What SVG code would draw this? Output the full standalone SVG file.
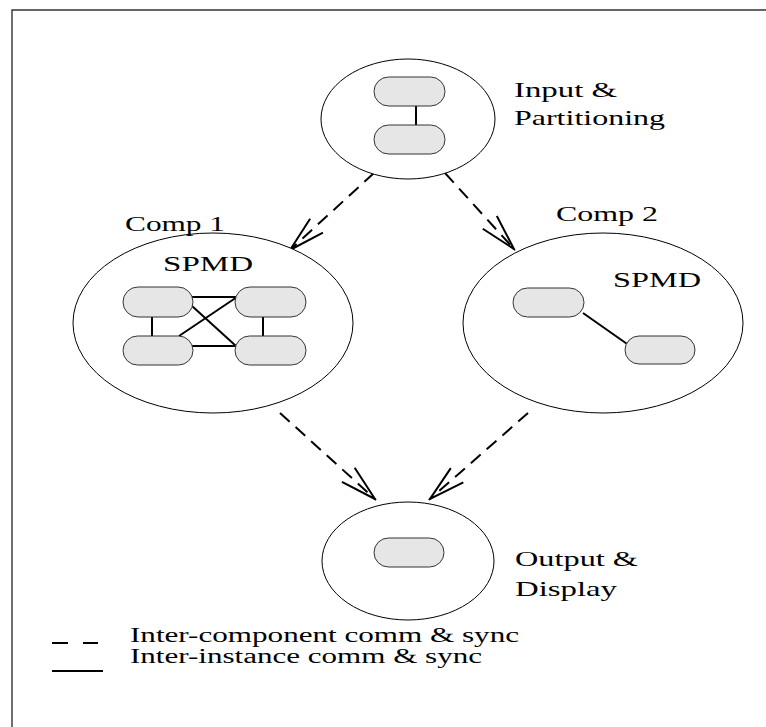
<svg xmlns="http://www.w3.org/2000/svg" width="766" height="727" viewBox="0 0 766 727">
  <style>
    .frame { stroke: #333; stroke-width: 1.4; fill: none; }
    .circle { fill: #fff; stroke: #000; stroke-width: 1; }
    .pill { fill: #e6e6e6; stroke: #333; stroke-width: 1; }
    .link { stroke: #000; stroke-width: 2; fill: none; }
    .dash { stroke: #000; stroke-width: 2; fill: none; stroke-dasharray: 13 8; }
    .lbl { font-family: "Liberation Serif", "Times New Roman", serif; font-size: 21px; fill: #000; }
    .leg { font-family: "Liberation Serif", "Times New Roman", serif; font-size: 20px; fill: #000; }
  </style>
  <defs>
    <marker id="open" markerUnits="userSpaceOnUse" markerWidth="40" markerHeight="24" viewBox="-38 -12 40 24" refX="0" refY="0" orient="auto">
      <path d="M-36,-9.5 L0,0 L-36,9.5" fill="none" stroke="#000" stroke-width="2"/>
    </marker>
  </defs>
  <rect width="766" height="727" fill="#fff"/>
  <path class="frame" d="M12,727 L12,10 L766,10"/>

  <g id="connectors">
    <line class="dash" x1="374" y1="173" x2="290" y2="250" marker-end="url(#open)"/>
    <line class="dash" x1="445" y1="173" x2="514" y2="249" marker-end="url(#open)"/>
    <line class="dash" x1="280" y1="413" x2="375" y2="499" marker-end="url(#open)"/>
    <line class="dash" x1="528" y1="413" x2="430" y2="499" marker-end="url(#open)"/>
  </g>

  <g id="input">
    <ellipse class="circle" cx="408" cy="119" rx="87" ry="60"/>
    <line class="link" x1="416" y1="106" x2="416" y2="125"/>
    <rect class="pill" x="374" y="77" width="71" height="29" rx="14.5"/>
    <rect class="pill" x="374" y="125" width="71" height="29" rx="14.5"/>
    <text class="lbl" x="514" y="97" textLength="103" lengthAdjust="spacingAndGlyphs">Input &amp;</text>
    <text class="lbl" x="514" y="125" textLength="151" lengthAdjust="spacingAndGlyphs">Partitioning</text>
  </g>

  <g id="comp1">
    <ellipse class="circle" cx="213" cy="323" rx="140" ry="90"/>
    <text class="lbl" x="125" y="231" textLength="100" lengthAdjust="spacingAndGlyphs">Comp 1</text>
    <text class="lbl" x="163" y="271" textLength="90" lengthAdjust="spacingAndGlyphs">SPMD</text>
    <line class="link" x1="190" y1="297" x2="238" y2="297"/>
    <line class="link" x1="190" y1="346" x2="238" y2="346"/>
    <line class="link" x1="152" y1="314" x2="152" y2="338"/>
    <line class="link" x1="263" y1="314" x2="263" y2="338"/>
    <line class="link" x1="192" y1="306" x2="236" y2="346"/>
    <line class="link" x1="179" y1="336" x2="237" y2="297"/>
    <rect class="pill" x="123" y="287" width="70" height="30" rx="15"/>
    <rect class="pill" x="235" y="287" width="71" height="30" rx="15"/>
    <rect class="pill" x="123" y="336" width="70" height="29" rx="14.5"/>
    <rect class="pill" x="235" y="336" width="71" height="29" rx="14.5"/>
  </g>

  <g id="comp2">
    <ellipse class="circle" cx="603" cy="323" rx="140" ry="90"/>
    <text class="lbl" x="556" y="221" textLength="102" lengthAdjust="spacingAndGlyphs">Comp 2</text>
    <text class="lbl" x="613" y="287" textLength="88" lengthAdjust="spacingAndGlyphs">SPMD</text>
    <line class="link" x1="583" y1="313" x2="630" y2="346"/>
    <rect class="pill" x="513" y="288" width="71" height="29" rx="14.5"/>
    <rect class="pill" x="625" y="336" width="70" height="28" rx="14"/>
  </g>

  <g id="output">
    <ellipse class="circle" cx="408" cy="561" rx="86" ry="59"/>
    <rect class="pill" x="374" y="538" width="70" height="29" rx="14.5"/>
    <text class="lbl" x="515" y="566" textLength="123" lengthAdjust="spacingAndGlyphs">Output &amp;</text>
    <text class="lbl" x="515" y="596" textLength="102" lengthAdjust="spacingAndGlyphs">Display</text>
  </g>

  <g id="legend">
    <line class="link" x1="52" y1="643" x2="68" y2="643"/>
    <line class="link" x1="83" y1="643" x2="98" y2="643"/>
    <line class="link" x1="52" y1="671" x2="103" y2="671"/>
    <text class="leg" x="130" y="642" textLength="389" lengthAdjust="spacingAndGlyphs">Inter-component comm &amp; sync</text>
    <text class="leg" x="130" y="663" textLength="352" lengthAdjust="spacingAndGlyphs">Inter-instance comm &amp; sync</text>
  </g>
</svg>
